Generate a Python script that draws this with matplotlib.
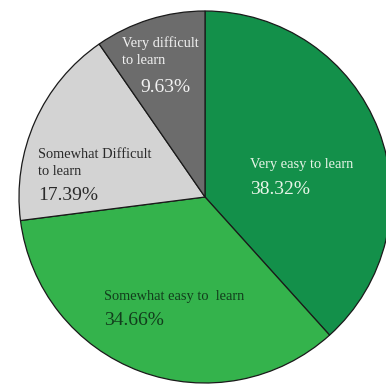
import matplotlib
matplotlib.use("Agg")
import matplotlib.pyplot as plt

# Survey responses: perceived difficulty of learning
categories = ["Very easy to learn", "Somewhat easy to  learn",
              "Somewhat Difficult\nto learn", "Very difficult\nto learn"]
shares = [38.32, 34.66, 17.39, 9.63]
colors = ["#13904a", "#34b34c", "#d3d3d3", "#6c6c6c"]
text_colors = ["#e8f5e8", "#123d1c", "#2a2a2a", "#f2f2f2"]

W, H = 386, 385
fig = plt.figure(figsize=(W / 100, H / 100), dpi=100)
ax = fig.add_axes([0, 0, 1, 1])

cx, cy, r = 205, H - 197, 186
ax.pie(shares, colors=colors, startangle=90, counterclock=False,
       center=(cx, cy), radius=r, frame=True,
       wedgeprops=dict(edgecolor="#1a1a1a", linewidth=0.9))
ax.set_xlim(0, W)
ax.set_ylim(0, H)
ax.set_aspect("equal")
ax.axis("off")

# label anchors (top-left of name, top-left of percentage)
name_pos = [(250, 158), (104, 290), (38, 148), (122, 36)]
pct_pos = [(250, 181), (104, 312), (38, 187), (140, 79)]

serif = "Liberation Serif"
for name, val, tc, (nx, ny), (px, py) in zip(categories, shares, text_colors,
                                              name_pos, pct_pos):
    ax.text(nx, H - ny, name, ha="left", va="top", color=tc,
            fontfamily=serif, fontsize=10.4, linespacing=1.4)
    ax.text(px, H - py, f"{val:.2f}%", ha="left", va="top", color=tc,
            fontfamily=serif, fontsize=14)

fig.savefig("out.png", dpi=100)
